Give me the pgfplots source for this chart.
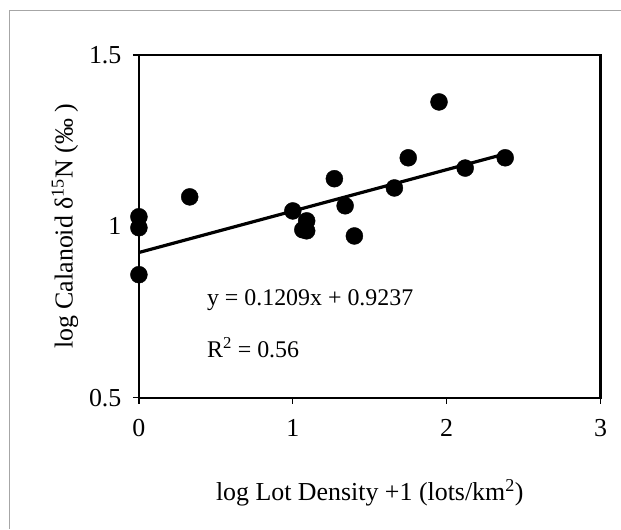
\documentclass[border=0pt]{standalone}
\usepackage{fontspec}
\setmainfont{Liberation Serif}
\usepackage{pgfplots}
\pgfplotsset{compat=1.18}
\begin{document}
\begin{tikzpicture}[x=1bp,y=1bp]
\begin{axis}[
  at={(0,0)}, anchor=south west,
  scale only axis, width=462bp, height=343bp,
  xmin=0, xmax=3, ymin=0.5, ymax=1.5,
  xtick={0,1,2,3}, ytick={0.5,1,1.5},
  yticklabels={0.5,1,1.5},
  tick align=outside, tick pos=left,
  major tick length=6bp,
  every tick/.style={line width=1.2pt, black},
  font=\fontsize{26}{30}\selectfont,
  /pgf/number format/assume math mode=true,
  xticklabel style={yshift=-12bp},
  yticklabel style={xshift=-8bp},
  xlabel={log Lot Density +1 (lots/km\textsuperscript{2})},
  ylabel={log Calanoid δ\textsuperscript{15}N (‰ )},
  xlabel style={at={(rel axis cs:0.5,-0.277)}, anchor=center},
  ylabel style={at={(rel axis cs:-0.16,0.5)}, anchor=center},
  clip=false,
]
\draw[line width=2.4pt] (rel axis cs:0,0) rectangle (rel axis cs:1,1);
\addplot[only marks, mark=*, mark size=8.5bp, black] coordinates {
  (0,1.028) (0,0.996) (0,0.859)
  (0.33,1.086) (1.0,1.045) (1.09,1.016) (1.065,0.99) (1.09,0.987)
  (1.27,1.139) (1.34,1.06) (1.40,0.972) (1.66,1.112) (1.75,1.20)
  (1.95,1.363) (2.12,1.17) (2.38,1.20)
};
\addplot[black, line width=3.2pt] coordinates {(0,0.9237) (2.38,1.2114)};
\node[anchor=west, font=\fontsize{24}{28}\selectfont] at (axis cs:0.42,0.786) {y = 0.1209x + 0.9237};
\node[anchor=west, font=\fontsize{24}{28}\selectfont] at (axis cs:0.42,0.646) {R\textsuperscript{2} = 0.56};
\end{axis}
\draw[gray!70, line width=0.8pt] (-130,-131) -- (-130,388) -- (482,388);
\path[use as bounding box] (-139,-131) rectangle (482,398);
\end{tikzpicture}
\end{document}
